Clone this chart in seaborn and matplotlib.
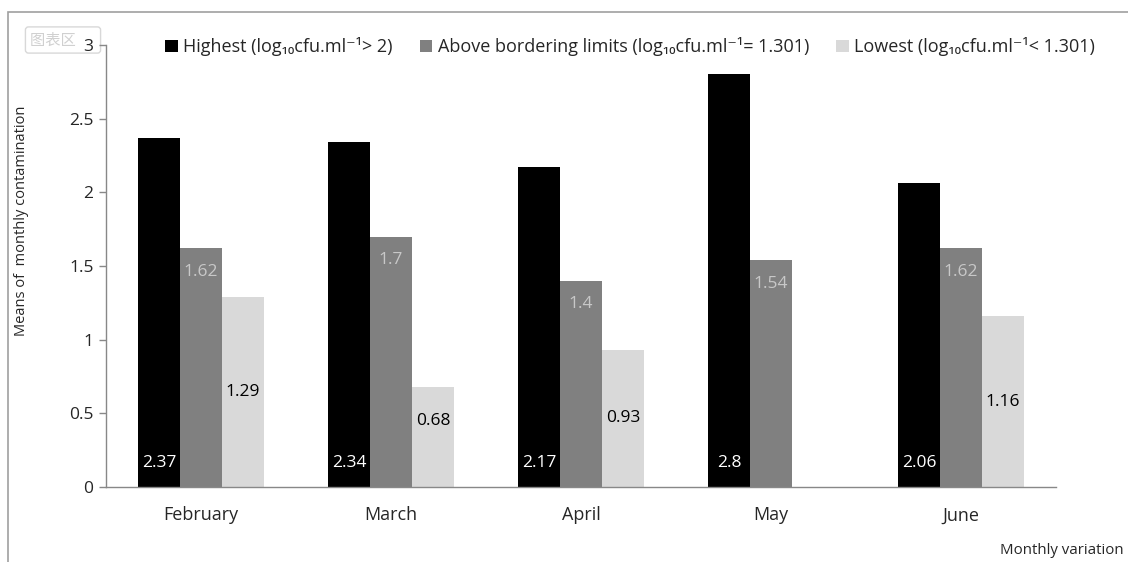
import matplotlib
matplotlib.use("Agg")
import matplotlib.pyplot as plt
import numpy as np
import pandas as pd
import seaborn as sns
from matplotlib.patches import Rectangle

months = ["February", "March", "April", "May", "June"]
highest = [2.37, 2.34, 2.17, 2.8, 2.06]
above = [1.62, 1.7, 1.4, 1.54, 1.62]
lowest = [1.29, 0.68, 0.93, np.nan, 1.16]
series = ["Highest (log\u2081\u2080cfu.ml\u207b\u00b9> 2)",
          "Above bordering limits (log\u2081\u2080cfu.ml\u207b\u00b9= 1.301)",
          "Lowest (log\u2081\u2080cfu.ml\u207b\u00b9< 1.301)"]
colors = ["#000000", "#808080", "#d9d9d9"]

df = pd.DataFrame({
    "month": months * 3,
    "series": [series[0]] * 5 + [series[1]] * 5 + [series[2]] * 5,
    "value": highest + above + lowest,
})

sns.set_style("white")
plt.rcParams["font.family"] = ["Open Sans", "DejaVu Sans"]
fs = 13

fig = plt.figure(figsize=(11.28, 5.62), dpi=100)
ax = fig.add_axes([106 / 1128, 75 / 562, 950 / 1128, 442 / 562])

sns.barplot(data=df, x="month", y="value", hue="series", order=months,
            hue_order=series, palette=colors, width=0.663, saturation=1,
            linewidth=0, ax=ax, legend=True)

# data labels
for cont, lab_col, kind in zip(ax.containers, ["white", "#c8c8c8", "black"],
                               ["bottom", "top", "mid"]):
    for bar in cont:
        h = bar.get_height()
        if np.isnan(h) or h == 0:
            continue
        x = bar.get_x() + bar.get_width() / 2
        if kind == "bottom":
            y = 0.16
        elif kind == "top":
            y = h - 0.16
        else:
            y = max(h / 2, 0.45)
        ax.text(x, y, f"{h:g}", ha="center", va="center", fontsize=12.5,
                color=lab_col)

ax.set_ylim(0, 3)
ax.set_xlim(-0.5, 4.5)
ax.set_yticks([0, 0.5, 1, 1.5, 2, 2.5, 3])
ax.set_yticklabels(["0", "0.5", "1", "1.5", "2", "2.5", "3"], fontsize=12.5)
ax.set_xticks(range(5))
ax.set_xticklabels(months, fontsize=fs)
ax.set_xticks(np.arange(-0.5, 5, 1), minor=True)
ax.tick_params(axis="x", which="major", length=0, pad=14)
ax.tick_params(axis="x", which="minor", length=8, color="#888888", width=1)
ax.tick_params(axis="y", length=5, color="#888888", width=1, left=True, pad=4)
ax.set_xlabel("")
ax.set_ylabel("Means of  monthly contamination", fontsize=10.5)
ax.yaxis.set_label_coords(-77 / 950, (487 - 221) / 442)
for s in ["top", "right"]:
    ax.spines[s].set_visible(False)
for s in ["left", "bottom"]:
    ax.spines[s].set_color("#888888")
    ax.spines[s].set_linewidth(1)

leg = ax.legend(loc="center", bbox_to_anchor=(630 / 1128, 1 - 47 / 562),
                bbox_transform=fig.transFigure, ncol=3, frameon=False,
                fontsize=fs, handlelength=0.7, handleheight=0.7,
                handletextpad=0.3, columnspacing=1.5)

fig.text(1000 / 1128, 1 - 550 / 562, "Monthly variation", fontsize=10.8,
         ha="left", va="center")

# outer chart frame
fig.patches.append(Rectangle((8 / 1128, -0.1), 1.2, 1 - 12 / 562 + 0.1,
                             transform=fig.transFigure, fill=False,
                             edgecolor="#a0a0a0", linewidth=1.2))

# excel chart-area tooltip, drawn beneath the axes tick label "3"
fig.text(30 / 1128, 1 - 40 / 562, "\u56fe\u8868\u533a      ", fontsize=11,
         color="#d0d0d0", va="center", ha="left", zorder=-1,
         family=["Noto Sans CJK SC", "DejaVu Sans"],
         bbox=dict(boxstyle="round,pad=0.3,rounding_size=0.2",
                   facecolor="white", edgecolor="#d8d8d8"))

fig.savefig("out.png", dpi=100)
